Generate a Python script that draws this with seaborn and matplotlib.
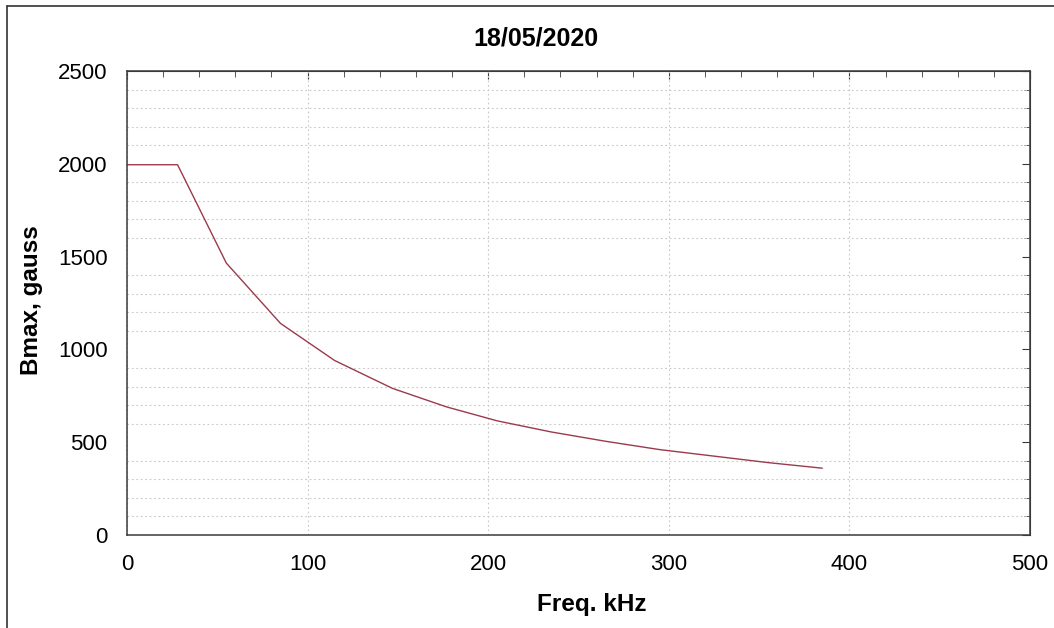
import matplotlib
matplotlib.use("Agg")
import matplotlib.pyplot as plt
from matplotlib.lines import Line2D
from matplotlib.ticker import MultipleLocator
import seaborn as sns
import pandas as pd

# Maximum flux density versus frequency
freq_khz = [0, 28, 55, 85, 115, 147, 177, 205, 235, 265, 295, 325, 355, 385]
bmax_gauss = [1995, 1995, 1465, 1140, 940, 790, 690, 615, 555, 505, 460, 425, 390, 360]

title_text = "18/05/2020"
x_label = "Freq. kHz"
y_label = "Bmax, gauss"

sns.set_style("white")
plt.rcParams["font.family"] = ["Liberation Sans", "DejaVu Sans"]
plt.rcParams["text.color"] = "black"
plt.rcParams["axes.labelcolor"] = "black"

df = pd.DataFrame({"freq": freq_khz, "bmax": bmax_gauss})

W, H = 1054, 628
fig = plt.figure(figsize=(W / 100, H / 100), dpi=100)
ax = fig.add_axes([127 / W, 1 - 535 / H, (1030 - 127) / W, (535 - 71) / H])

sns.lineplot(data=df, x="freq", y="bmax", ax=ax, color="#9b3a4c", linewidth=1.0)

ax.set_xlim(0, 500)
ax.set_ylim(0, 2500)
ax.xaxis.set_major_locator(MultipleLocator(100))
ax.xaxis.set_minor_locator(MultipleLocator(20))
ax.yaxis.set_major_locator(MultipleLocator(500))
ax.yaxis.set_minor_locator(MultipleLocator(100))

# dotted grid: vertical at major x, horizontal at minor y
grid_kw = dict(color="#c8c8c8", linestyle=(0, (1.5, 2.5)), linewidth=0.8)
ax.grid(False)
ax.xaxis.grid(True, which="major", **grid_kw)
ax.yaxis.grid(True, which="minor", **grid_kw)
ax.set_axisbelow(True)

spine_color = "#3a3a3a"
for s in ax.spines.values():
    s.set_visible(True)
    s.set_color(spine_color)
    s.set_linewidth(1.1)

ax.tick_params(axis="both", which="both", direction="inout", colors=spine_color,
               labelcolor="black", labelsize=16)
ax.tick_params(axis="both", which="major", length=12, width=1.0)
ax.tick_params(axis="both", which="minor", length=7, width=1.0)
ax.tick_params(axis="y", which="major", pad=8)
ax.tick_params(axis="x", which="major", pad=8)

# inward ticks on the top and right edges
sec_x = ax.secondary_xaxis("top")
sec_x.xaxis.set_major_locator(MultipleLocator(100))
sec_x.xaxis.set_minor_locator(MultipleLocator(20))
sec_x.tick_params(which="both", direction="in", labeltop=False, colors=spine_color)
sec_x.tick_params(which="major", length=6)
sec_x.tick_params(which="minor", length=4)
sec_x.spines["top"].set_color(spine_color)
sec_y = ax.secondary_yaxis("right")
sec_y.yaxis.set_major_locator(MultipleLocator(500))
sec_y.yaxis.set_minor_locator(MultipleLocator(100))
sec_y.tick_params(which="both", direction="in", labelright=False, colors=spine_color)
sec_y.tick_params(which="major", length=6)
sec_y.tick_params(which="minor", length=4)
sec_y.spines["right"].set_color(spine_color)

ax.set_xlabel("")
ax.set_ylabel("")
fig.text(592 / W, 1 - 605 / H, x_label, fontsize=17.5, fontweight="bold",
         ha="center", va="center")
fig.text(32 / W, 1 - 300 / H, y_label, fontsize=17.5, fontweight="bold",
         ha="center", va="center", rotation=90)
fig.text(536 / W, 1 - 38 / H, title_text, fontsize=18, fontweight="bold",
         ha="center", va="center")

# thin frame around the figure
fig.add_artist(Line2D([7 / W, 7 / W], [0, 1 - 6 / H], transform=fig.transFigure,
                      color="#333333", linewidth=1.2))
fig.add_artist(Line2D([7 / W, 1], [1 - 6 / H, 1 - 6 / H], transform=fig.transFigure,
                      color="#333333", linewidth=1.2))

fig.savefig("out.png", dpi=100, facecolor="white")
